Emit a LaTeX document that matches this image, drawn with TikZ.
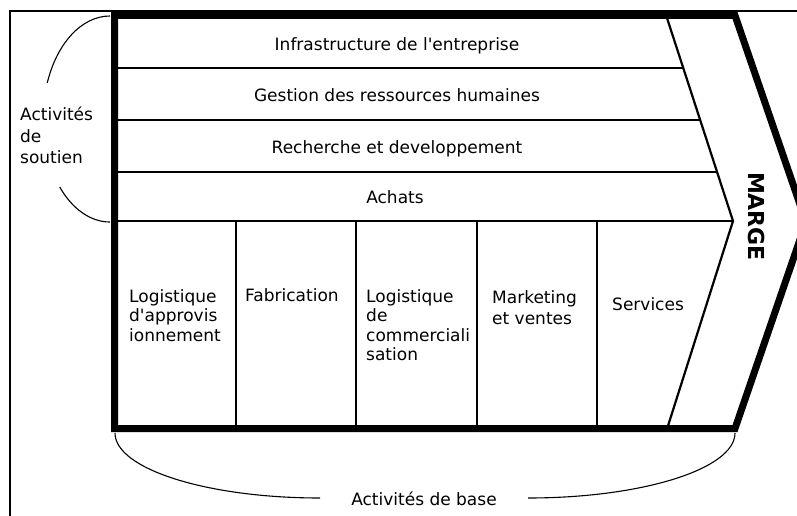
\documentclass[tikz,border=0pt]{standalone}
\usepackage{fontspec}
\setmainfont{DejaVu Sans}[Ligatures=TeXOff]
\begin{document}
\begin{tikzpicture}[x=1pt,y=-1pt,
  lbl/.style={inner sep=0pt, font=\fontsize{17}{19.5}\selectfont},
  sidelbl/.style={inner sep=0pt, align=left, font=\fontsize{17}{21.5}\selectfont},
  collbl/.style={inner sep=0pt, align=left, anchor=north west, font=\fontsize{17}{19.5}\selectfont},
  thinline/.style={line width=1.1pt},
  sepline/.style={line width=2.4pt},
  chevline/.style={line width=2.2pt},
  outline/.style={line width=7pt, line join=miter},
  bracket/.style={line width=1.1pt}]
\useasboundingbox (0,0) rectangle (797,516);
\fill[white] (0,0) rectangle (797,516);
\clip (0,0) rectangle (797,516);

% outer thin frame
\draw[thinline] (10,530) -- (10,11) -- (820,11);

% row separators
\draw[thinline] (114,68) -- (683,68);
\draw[thinline] (114,120) -- (700,120);
\draw[thinline] (114,172) -- (717,172);
\draw[sepline] (114,221) -- (733,221);

% column separators
\draw[thinline] (236,221) -- (236,429);
\draw[thinline] (356,221) -- (356,429);
\draw[thinline] (477,221) -- (477,429);
\draw[thinline] (597,221) -- (597,429);

% inner chevron
\draw[chevline] (667,18) -- (733,221) -- (667,429);

% thick outline
\draw[outline] (114.5,15.5) -- (735,15.5) -- (806,222) -- (735,428.5) -- (114.5,428.5) -- cycle;

% support activities
\node[lbl, anchor=base] (infra) at (397,51) {Infrastructure de l'entreprise};
\node[lbl, anchor=base] (grh) at (397,102) {Gestion des ressources humaines};
\node[lbl, anchor=base] (rd) at (397,153) {Recherche et developpement};
\node[lbl, anchor=base] (achats) at (395,203) {Achats};

% primary activities
\node[collbl] (logappro) at (129,289) {Logistique\\d'approvis\\ionnement};
\node[collbl] (fab) at (245,288) {Fabrication};
\node[collbl] (logcom) at (366,289) {Logistique\\de\\commerciali\\sation};
\node[collbl, font=\fontsize{17}{21.5}\selectfont] (mkt) at (492,290) {Marketing\\et ventes};
\node[collbl] (serv) at (612,297) {Services};

% margin
\node[inner sep=0pt, rotate=-90, font=\bfseries\fontsize{22}{22}\selectfont] (marge) at (756.5,216.5) {MARGE};

% side labels
\node[sidelbl, anchor=north west] (soutien) at (20,107) {Activités\\de\\soutien};
\node[lbl, anchor=base] (base) at (424,505) {Activités de base};

% brackets
\coordinate (stop) at (110,16);
\coordinate (sbot) at (59.7,187);
\coordinate (bleft) at (115,433);
\coordinate (bright) at (528,498);
\draw[bracket] (stop) arc[start angle=90, end angle=159.5, x radius=67pt, y radius=103pt];
\draw[bracket] (sbot) arc[start angle=221.3, end angle=270, x radius=67pt, y radius=103pt];
\draw[bracket] (bleft) arc[start angle=180, end angle=270, x radius=205pt, y radius=65pt];
\draw[bracket] (bright) arc[start angle=270, end angle=360, x radius=207pt, y radius=65pt];
\end{tikzpicture}
\end{document}
